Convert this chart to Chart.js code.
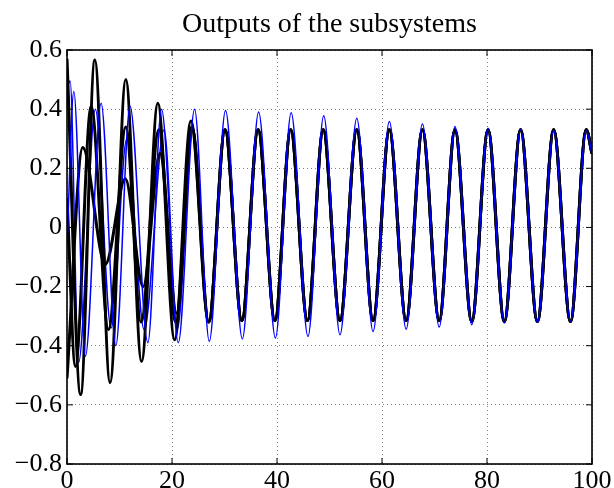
<!DOCTYPE html>
<html>
<head>
<meta charset="utf-8">
<script src="https://cdn.jsdelivr.net/npm/chart.js@4/dist/chart.umd.min.js"></script>
<style>
  html, body { margin: 0; padding: 0; background: #fff; }
  canvas { display: block; }
</style>
</head>
<body>
<canvas id="c" width="614" height="488"></canvas>
<script>
// Axis ticks and labels
const xTicks = [0, 20, 40, 60, 80, 100];
const xTickLabels = ['0', '20', '40', '60', '80', '100'];
const yTicks = [-0.8, -0.6, -0.4, -0.2, 0, 0.2, 0.4, 0.6];
const yTickLabels = ['\u22120.8', '\u22120.6', '\u22120.4', '\u22120.2', '0', '0.2', '0.4', '0.6'];

// Turning points (time, output) of each subsystem response.
// Settled oscillation shared by the black outputs
const settledT = [27.0, 30.1, 33.3, 36.4, 39.6, 42.6, 45.8, 48.8, 52.0, 55.2, 58.3, 61.4, 64.6, 67.7, 70.9, 73.9, 77.1, 80.2, 83.3, 86.4, 89.6, 92.7, 95.9, 98.9, 100];
const settledY = [-0.32, 0.33, -0.315, 0.33, -0.315, 0.33, -0.315, 0.33, -0.315, 0.33, -0.315, 0.33, -0.315, 0.33, -0.315, 0.33, -0.318, 0.33, -0.318, 0.33, -0.318, 0.33, -0.318, 0.33, 0.25];

// Transients of the black outputs
const out1T = [0, 2.6, 5.3, 8.2, 11.2, 14.2, 17.3, 20.5, 23.6];
const out1Y = [0.57, -0.565, 0.566, -0.525, 0.50, -0.453, 0.42, -0.38, 0.36];
const out2T = [0, 1.6, 4.6, 7.9, 11.2, 14.1, 17.5, 20.7, 23.75];
const out2Y = [0.10, -0.47, 0.41, -0.345, 0.34, -0.32, 0.33, -0.32, 0.34];
const out3T = [0, 3.0, 7.3, 11.1, 14.5, 17.7, 20.9, 23.9];
const out3Y = [-0.51, 0.27, -0.125, 0.165, -0.20, 0.25, -0.29, 0.33];

// Blue outputs
const out4T = [0, 1.3, 3.5, 6.5, 9.3, 12.0, 15.4, 18.0, 21.2, 24.3, 27.1, 30.2, 33.4, 36.5, 39.7, 42.7, 45.9, 48.9, 52.0, 55.2, 58.3, 61.4, 64.6, 67.7, 70.9, 73.9, 77.1, 80.2, 83.3, 86.4, 89.6, 92.7, 95.9, 98.9, 100];
const out4Y = [-0.06, 0.46, -0.436, 0.42, -0.40, 0.41, -0.39, 0.40, -0.39, 0.40, -0.385, 0.395, -0.377, 0.39, -0.374, 0.388, -0.369, 0.378, -0.363, 0.369, -0.352, 0.358, -0.344, 0.35, -0.337, 0.341, -0.329, 0.335, -0.323, 0.33, -0.321, 0.328, -0.318, 0.327, 0.25];
const out5T = [0, 0.6, 2.2, 5.4, 8.4, 11.4, 14.7, 18.5, 21.0, 24.0];
const out5Y = [0.47, 0.495, -0.457, 0.40, -0.34, 0.30, -0.346, 0.33, -0.345, 0.34];

function pts(t, y) { return t.map((v, i) => ({ x: v, y: y[i] })); }
function withSettled(t, y) { return pts(t, y).concat(pts(settledT, settledY)); }

function series(data, color, width, order) {
  return {
    data, borderColor: color, borderWidth: width, order,
    pointRadius: 0, fill: false, cubicInterpolationMode: 'monotone'
  };
}

const datasets = [
  series(pts(out4T, out4Y), '#0000ff', 1.5, 0),
  series(withSettled(out1T, out1Y), '#000000', 3, 1),
  series(withSettled(out2T, out2Y), '#000000', 3, 1),
  series(withSettled(out3T, out3Y), '#000000', 3, 1),
  series(withSettled(out5T, out5Y), '#0000ff', 1.5, 2)
];

// Box around the axes with inward tick marks on all four sides
const axesBox = {
  id: 'axesBox',
  afterDatasetsDraw(chart) {
    const { ctx, chartArea: a, scales } = chart;
    const len = 6;
    ctx.save();
    ctx.strokeStyle = '#000';
    ctx.lineWidth = 1;
    ctx.beginPath();
    xTicks.forEach(v => {
      const px = scales.x.getPixelForValue(v);
      ctx.moveTo(px, a.bottom); ctx.lineTo(px, a.bottom - len);
      ctx.moveTo(px, a.top); ctx.lineTo(px, a.top + len);
    });
    yTicks.forEach(v => {
      const py = scales.y.getPixelForValue(v);
      ctx.moveTo(a.left, py); ctx.lineTo(a.left + len, py);
      ctx.moveTo(a.right, py); ctx.lineTo(a.right - len, py);
    });
    ctx.stroke();
    ctx.lineWidth = 1.6;
    ctx.strokeRect(a.left, a.top, a.right - a.left, a.bottom - a.top);
    ctx.restore();
  }
};

const serif = 'Liberation Serif, Times New Roman, serif';

new Chart(document.getElementById('c'), {
  type: 'line',
  data: { datasets },
  plugins: [axesBox],
  options: {
    responsive: false,
    animation: false,
    devicePixelRatio: 1,
    layout: { padding: { left: 0, right: 22, top: 0, bottom: 0 } },
    plugins: {
      legend: { display: false },
      tooltip: { enabled: false },
      title: {
        display: true,
        text: 'Outputs of the subsystems',
        fullSize: false,
        color: '#000',
        font: { family: serif, size: 28, weight: 'normal', lineHeight: 1.2 },
        padding: { top: 8, bottom: 8.4 }
      }
    },
    scales: {
      x: {
        type: 'linear', min: 0, max: 100,
        afterBuildTicks: s => { s.ticks = xTicks.map(v => ({ value: v })); },
        afterFit: s => { s.height = 24; },
        ticks: {
          color: '#000', padding: 2, maxRotation: 0, autoSkip: false,
          font: { family: serif, size: 26 },
          callback: (v) => xTickLabels[xTicks.indexOf(v)]
        },
        grid: { color: 'rgba(0,0,0,0.5)', lineWidth: 1, drawTicks: false },
        border: { display: false, dash: [1, 3] }
      },
      y: {
        type: 'linear', min: -0.8, max: 0.6,
        afterBuildTicks: s => { s.ticks = yTicks.map(v => ({ value: v })); },
        afterFit: s => { s.width = 67; },
        ticks: {
          color: '#000', padding: 5,
          font: { family: serif, size: 26 },
          callback: (v) => yTickLabels[yTicks.indexOf(v)]
        },
        grid: { color: 'rgba(0,0,0,0.5)', lineWidth: 1, drawTicks: false },
        border: { display: false, dash: [1, 3] }
      }
    }
  }
});
</script>
</body>
</html>
